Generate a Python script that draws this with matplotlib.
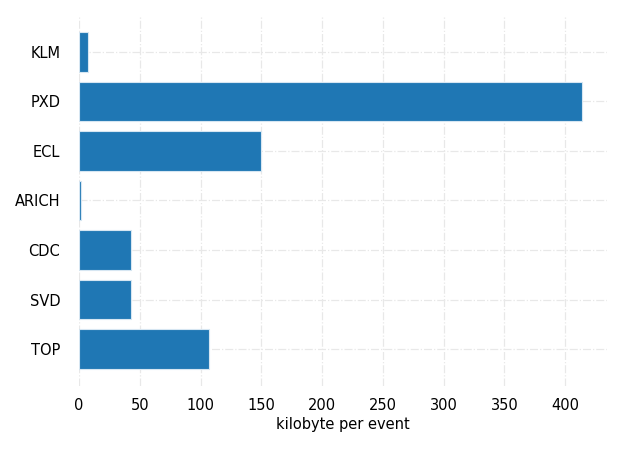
import matplotlib.pyplot as plt

# detector data sizes
detectors = ['TOP', 'SVD', 'CDC', 'ARICH', 'ECL', 'PXD', 'KLM']
sizes = [106.8, 42.7, 42.7, 1.5, 150.0, 413.5, 7.3]

fig = plt.figure(figsize=(6.23, 4.49), dpi=100)
ax = fig.add_axes([0.127, 0.141, 0.847, 0.825])

ax.barh(detectors, sizes, color='#1f77b4', edgecolor='#d6e6f2', linewidth=0.8)
ax.set_axisbelow(True)
ax.grid(True, linestyle='-.', color='#e8e8e8', linewidth=0.9)
for s in ax.spines.values():
    s.set_visible(False)
ax.tick_params(length=0, labelsize=10.5)
ax.tick_params(axis='x', pad=9)
ax.tick_params(axis='y', pad=13.5)
ax.set_xlabel('kilobyte per event', fontsize=10.5, labelpad=3)

fig.savefig('out.png')
